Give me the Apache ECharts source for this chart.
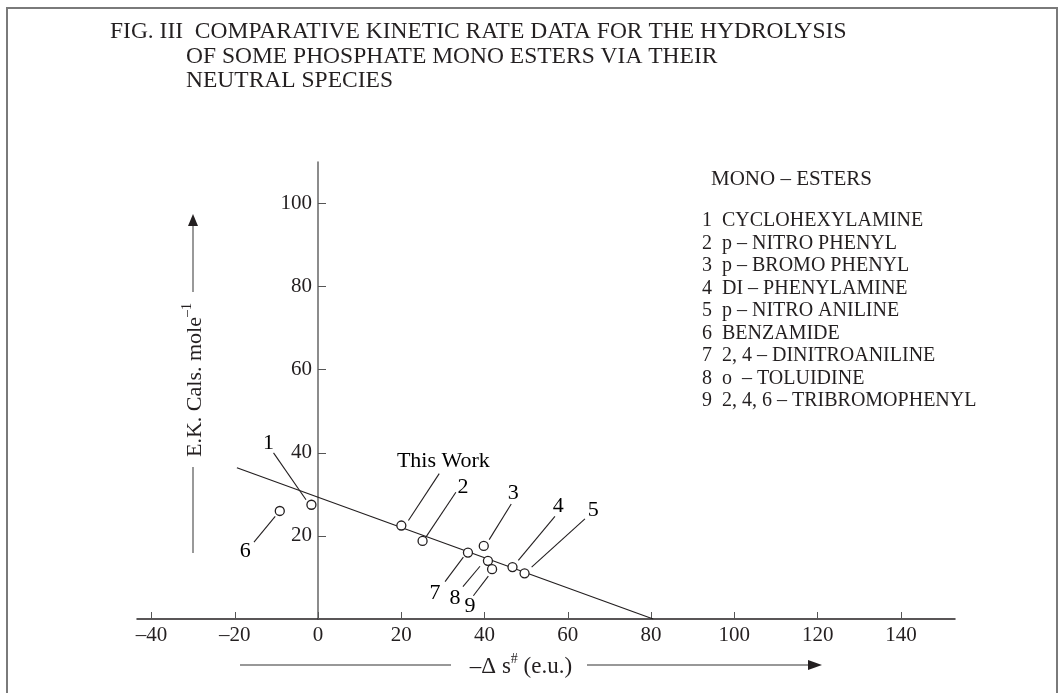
<!DOCTYPE html>
<html>
<head>
<meta charset="utf-8">
<script src="https://cdn.jsdelivr.net/npm/echarts@6/dist/echarts.min.js"></script>
<style>html,body{margin:0;padding:0;background:#fff}#c{width:1061px;height:693px}</style>
</head>
<body>
<div id="c"></div>
<script>
// ---- data ----
const xTicks = [-40, -20, 0, 20, 40, 60, 80, 100, 120, 140];
const yTicks = [20, 40, 60, 80, 100];
const pointIds = ['This Work', '1', '2', '3', '4', '5', '6', '7', '8', '9'];
const pointX = [20.0, -1.6, 25.1, 39.8, 46.7, 49.6, -9.2, 36.0, 40.8, 41.8];
const pointY = [22.5, 27.5, 18.8, 17.6, 12.5, 11.0, 26.0, 16.0, 14.0, 12.0];
const fitX = [-19.5, 80.5];
const fitY = [36.4, 0];
const labelText = ['This Work', '1', '2', '3', '4', '5', '6', '7', '8', '9'];
const labelX = [30.1, -11.9, 34.8, 46.9, 57.7, 66.1, -17.5, 28.1, 32.9, 36.5];
const labelY = [37.9, 42.4, 31.7, 30.2, 27.1, 26.1, 16.3, 6.3, 5.1, 3.0];
const leaderX1 = [29.1, -10.7, 33.1, 46.4, 56.9, 64.1, -15.4, 30.5, 34.8, 37.3];
const leaderY1 = [35.0, 40.0, 30.5, 27.7, 24.7, 24.1, 18.5, 9.0, 7.8, 5.6];
const leaderX2 = [21.7, -2.9, 25.9, 41.1, 48.1, 51.3, -10.3, 34.9, 38.9, 40.9];
const leaderY2 = [23.7, 28.7, 19.7, 19.1, 14.1, 12.5, 24.7, 14.9, 12.7, 10.3];
const titleLines = [
  'FIG. III  COMPARATIVE KINETIC RATE DATA FOR THE HYDROLYSIS',
  'OF SOME PHOSPHATE MONO ESTERS VIA THEIR',
  'NEUTRAL SPECIES'
];
const legendTitle = 'MONO – ESTERS';
const legendNums = ['1', '2', '3', '4', '5', '6', '7', '8', '9'];
const legendNames = ['CYCLOHEXYLAMINE', 'p – NITRO PHENYL', 'p – BROMO PHENYL', 'DI – PHENYLAMINE',
  'p – NITRO ANILINE', 'BENZAMIDE', '2, 4 – DINITROANILINE', 'o  – TOLUIDINE', '2, 4, 6 – TRIBROMOPHENYL'];
const xName = ['–Δ s', '#', ' (e.u.)'];
const yName = ['E.K. Cals. mole', '–1'];

// ---- build ----
const FONT = '"Liberation Serif", "DejaVu Serif", serif';
const TXT = '#231f20';
const chart = echarts.init(document.getElementById('c'), null, {renderer: 'canvas'});

const graphics = [];
graphics.push({type: 'rect', shape: {x: 7, y: 8, width: 1050, height: 700},
  style: {fill: 'none', stroke: '#7a7a7a', lineWidth: 2}, silent: true});
const titleXs = [110, 186, 186];
const titleYs = [32, 57, 81];
titleLines.forEach((t, i) => graphics.push({type: 'text', x: titleXs[i], y: titleYs[i],
  style: {text: t, font: '23.5px ' + FONT, fill: TXT, verticalAlign: 'middle'}}));
graphics.push({type: 'text', x: 711, y: 179,
  style: {text: legendTitle, font: '21px ' + FONT, fill: TXT, verticalAlign: 'middle'}});
legendNums.forEach((n, i) => {
  const y = 221 + 22.5 * i;
  graphics.push({type: 'text', x: 702, y: y, style: {text: n, font: '20px ' + FONT, fill: TXT, verticalAlign: 'middle'}});
  graphics.push({type: 'text', x: 722, y: y, style: {text: legendNames[i], font: '20px ' + FONT, fill: TXT, verticalAlign: 'middle'}});
});
// x axis name with arrow
graphics.push({type: 'line', shape: {x1: 240, y1: 665, x2: 451, y2: 665}, style: {stroke: '#333', lineWidth: 1.2}});
graphics.push({type: 'line', shape: {x1: 587, y1: 665, x2: 812, y2: 665}, style: {stroke: '#333', lineWidth: 1.2}});
graphics.push({type: 'polygon', shape: {points: [[822, 665], [808, 660], [808, 670]]}, style: {fill: '#231f20'}});
graphics.push({type: 'text', x: 521, y: 665, style: {
  text: '{a|' + xName[0] + '}{s|' + xName[1] + '}{a|' + xName[2] + '}',
  align: 'center', verticalAlign: 'middle', fill: TXT,
  rich: {a: {font: '23px ' + FONT, fill: TXT, lineHeight: 26, verticalAlign: 'bottom'},
         s: {font: '14px ' + FONT, fill: TXT, lineHeight: 26, verticalAlign: 'top'}}}});
// y axis name with arrow
graphics.push({type: 'line', shape: {x1: 193, y1: 553, x2: 193, y2: 467}, style: {stroke: '#555', lineWidth: 1.2}});
graphics.push({type: 'line', shape: {x1: 193, y1: 292, x2: 193, y2: 224}, style: {stroke: '#555', lineWidth: 1.2}});
graphics.push({type: 'polygon', shape: {points: [[193, 214], [188, 226], [198, 226]]}, style: {fill: '#231f20'}});
graphics.push({type: 'text', x: 193, y: 380, rotation: Math.PI / 2, style: {
  text: '{a|' + yName[0] + '}{s|' + yName[1] + '}',
  align: 'center', verticalAlign: 'middle', fill: TXT,
  rich: {a: {font: '22px ' + FONT, fill: TXT, lineHeight: 26, verticalAlign: 'bottom'},
         s: {font: '14px ' + FONT, fill: TXT, lineHeight: 26, verticalAlign: 'top'}}}});

const option = {
  animation: false,
  backgroundColor: '#fff',
  grid: {left: 137, right: 106, top: 162, bottom: 74},
  xAxis: {
    type: 'value', min: -43.5, max: 153, splitLine: {show: false},
    axisLine: {onZero: false, lineStyle: {color: '#231f20', width: 1.5}},
    axisTick: {inside: true, length: 7, customValues: xTicks, lineStyle: {color: '#555', width: 1}},
    axisLabel: {customValues: xTicks, margin: 6, fontFamily: FONT, fontSize: 21, color: TXT,
      formatter: v => (v < 0 ? '–' + Math.abs(v) : String(v))}
  },
  yAxis: {
    type: 'value', min: 0, max: 110, splitLine: {show: false}, position: 'left', offset: -181,
    axisLine: {onZero: false, lineStyle: {color: '#666', width: 1.5}},
    axisTick: {inside: true, length: 8, customValues: yTicks, lineStyle: {color: '#555', width: 1}},
    axisLabel: {customValues: yTicks, margin: 6, fontFamily: FONT, fontSize: 21, color: TXT}
  },
  series: [
    {type: 'line', data: fitX.map((x, i) => [x, fitY[i]]), symbol: 'none',
      lineStyle: {color: '#231f20', width: 1.2}, z: 2},
    {type: 'lines', coordinateSystem: 'cartesian2d', polyline: false,
      data: leaderX1.map((x, i) => ({coords: [[x, leaderY1[i]], [leaderX2[i], leaderY2[i]]]})),
      lineStyle: {color: '#231f20', width: 1.1, opacity: 1}, z: 2},
    {type: 'scatter', symbol: 'circle', symbolSize: 9,
      data: pointX.map((x, i) => ({name: pointIds[i], value: [x, pointY[i]]})),
      itemStyle: {color: '#ffffff', borderColor: '#231f20', borderWidth: 1.3, opacity: 1}, z: 3},
    {type: 'scatter', symbol: 'circle', symbolSize: 0, itemStyle: {color: '#ffffff', opacity: 1},
      data: labelX.map((x, i) => ({name: labelText[i], value: [x, labelY[i]]})),
      label: {show: true, position: 'inside', formatter: p => p.name, textBorderWidth: 0, opacity: 1,
        fontFamily: FONT, fontSize: 22, color: '#000000'}, z: 4}
  ],
  graphic: graphics
};
chart.setOption(option);
</script>
</body>
</html>
